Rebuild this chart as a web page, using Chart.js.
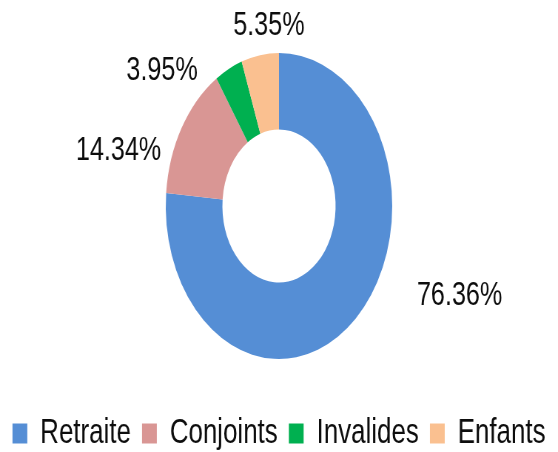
<!DOCTYPE html>
<html><head><meta charset="utf-8">
<script src="https://cdn.jsdelivr.net/npm/chart.js@4.4.1/dist/chart.umd.min.js"></script>
<style>
html,body{margin:0;padding:0;background:#fff;overflow:hidden;width:558px;height:452px;}
#wrap{position:absolute;left:0;top:0;width:754px;height:452px;transform:scaleX(0.74);transform-origin:0 0;}
</style></head><body>
<div id="wrap"><canvas id="c" width="754" height="452"></canvas></div>
<script>
const categories = ['Retraite', 'Conjoints', 'Invalides', 'Enfants'];
const shares = [76.36, 14.34, 3.95, 5.35];
const colors = ['#558ED5', '#D99694', '#00B050', '#FAC090'];

const outsideLabels = {
  id: 'outsideLabels',
  afterDatasetsDraw(chart, args, opts) {
    const ctx = chart.ctx;
    const meta = chart.getDatasetMeta(0);
    const values = chart.data.datasets[0].data;
    ctx.save();
    ctx.font = opts.font;
    ctx.fillStyle = opts.color;
    ctx.textAlign = 'center';
    ctx.textBaseline = 'middle';
    meta.data.forEach((arc, i) => {
      const p = arc.getProps(['x', 'y', 'startAngle', 'endAngle', 'outerRadius'], true);
      const mid = (p.startAngle + p.endAngle) / 2;
      const off = opts.offsets[i] || [0, 0];
      const tx = p.x + Math.cos(mid) * p.outerRadius + off[0];
      const ty = p.y + Math.sin(mid) * p.outerRadius + off[1];
      ctx.fillText(values[i].toFixed(2) + '%', tx, ty);
    });
    ctx.restore();
  }
};

new Chart(document.getElementById('c'), {
  type: 'doughnut',
  data: {
    labels: categories,
    datasets: [{
      data: shares,
      backgroundColor: colors,
      borderWidth: 0,
      radius: 153,
      cutout: '50%'
    }]
  },
  plugins: [outsideLabels],
  options: {
    responsive: false,
    animation: false,
    devicePixelRatio: 1,
    layout: { padding: { top: 11, bottom: -9, left: 0, right: 0 } },
    plugins: {
      tooltip: { enabled: false },
      legend: {
        position: 'bottom',
        labels: {
          boxWidth: 20,
          boxHeight: 20,
          padding: 15,
          color: '#0d0d0d',
          font: { family: "'Liberation Sans', Arial, sans-serif", size: 35 }
        }
      },
      outsideLabels: {
        font: "34px 'Liberation Sans', Arial, sans-serif",
        color: '#0d0d0d',
        offsets: [[140.6, -23.3], [-85.3, 23.1], [-90.1, 1.5], [12, -29.1]]
      }
    }
  }
});
</script>
</body></html>
